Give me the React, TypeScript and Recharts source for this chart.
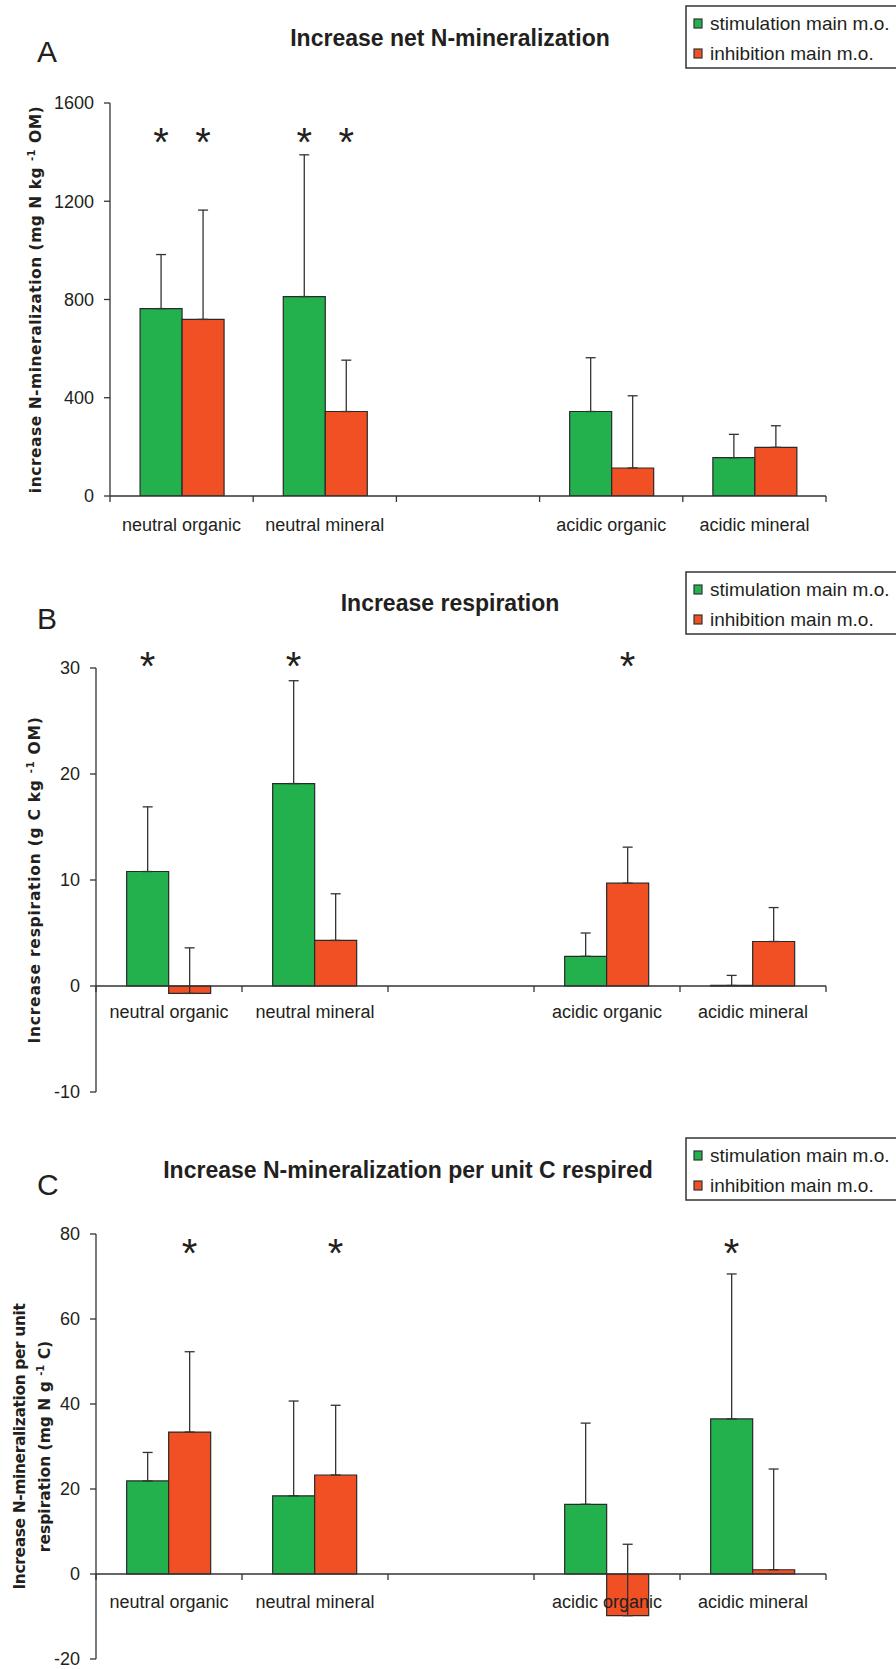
import React from "react";
import {
  Bar,
  BarChart,
  ErrorBar,
  LabelList,
  ReferenceLine,
  XAxis,
  YAxis,
} from "recharts";

const CATEGORIES = [
  "neutral organic",
  "neutral mineral",
  "",
  "acidic organic",
  "acidic mineral",
];
const SERIES = ["stimulation main m.o.", "inhibition main m.o."];
const GREEN = "#23b14d";
const RED = "#f05023";
const INK = "#231f20";
const LINE = "#333333";

// A: increase net N-mineralization (mg N kg-1 OM)
const nminStim = [763, 812, null, 344, 156];
const nminStimErr = [220, 577, null, 219, 95];
const nminInhib = [719, 344, null, 114, 198];
const nminInhibErr = [445, 209, null, 294, 88];
const nminStimStar = [true, true, false, false, false];
const nminInhibStar = [true, true, false, false, false];
const nminTicks = [0, 400, 800, 1200, 1600];
const nminStarLevel = 1478;

// B: increase respiration (g C kg-1 OM)
const respStim = [10.8, 19.1, null, 2.8, 0.05];
const respStimErr = [6.1, 9.7, null, 2.2, 0.95];
const respInhib = [-0.7, 4.3, null, 9.7, 4.2];
const respInhibErr = [4.3, 4.4, null, 3.4, 3.2];
const respStimStar = [true, true, false, false, false];
const respInhibStar = [false, false, false, true, false];
const respTicks = [-10, 0, 10, 20, 30];
const respStarLevel = 31.1;

// C: increase N-mineralization per unit C respired (mg N g-1 C)
const ratioStim = [21.9, 18.4, null, 16.4, 36.5];
const ratioStimErr = [6.7, 22.3, null, 19.1, 34.1];
const ratioInhib = [33.4, 23.3, null, -9.8, 1.0];
const ratioInhibErr = [18.9, 16.4, null, 16.8, 23.7];
const ratioStimStar = [false, false, false, false, true];
const ratioInhibStar = [true, true, false, false, false];
const ratioTicks = [-20, 0, 20, 40, 60, 80];
const ratioStarLevel = 77.7;

type Num = number | null;

const buildRows = (stim: Num[], stimErr: Num[], inhib: Num[], inhibErr: Num[]) =>
  CATEGORIES.map((category, i) => ({
    category,
    stim: stim[i],
    inhib: inhib[i],
    stimErr: stimErr[i] == null ? null : [0, stimErr[i]],
    inhibErr: inhibErr[i] == null ? null : [0, inhibErr[i]],
  }));

const STAR_FONT = 40;
const SANS = "Liberation Sans, Arial, sans-serif";

// asterisk above a bar, placed at a fixed value using the bar's own scale
const renderStars = (values: Num[], flags: boolean[], level: number) => (props: any) => {
  const value = props.value;
  let i = values.indexOf(value);
  if (i < 0 && typeof props.index === "number") i = props.index;
  if (i < 0 || !flags[i] || !value) return null;
  const vb = props.viewBox ?? props;
  const ppu = vb.height / value;
  const base = vb.y + vb.height;
  const cy = base - level * ppu;
  return (
    <text
      x={vb.x + vb.width / 2}
      y={cy + STAR_FONT * 0.58}
      textAnchor="middle"
      fontSize={STAR_FONT}
      fontFamily={SANS}
      fill={INK}
    >
      *
    </text>
  );
};

// category axis drawn on the zero line (Excel style: ticks between categories)
const renderCategoryAxis = (labelGap: number) => (props: any) => {
  const { x, y, width } = props.viewBox;
  const step = width / CATEGORIES.length;
  const bounds = CATEGORIES.map((_, i) => x + i * step).concat(x + width);
  return (
    <g>
      {bounds.map((bx, i) => (
        <line key={`tick-${i}`} x1={bx} x2={bx} y1={y} y2={y + 6} stroke={LINE} strokeWidth={1.3} />
      ))}
      {CATEGORIES.map((name, i) => (
        <text
          key={`cat-${i}`}
          x={x + (i + 0.5) * step}
          y={y + labelGap}
          textAnchor="middle"
          fontSize={18}
          fontFamily={SANS}
          fill={INK}
        >
          {name}
        </text>
      ))}
    </g>
  );
};

type TitleLine = { x: number; spacing: number; before: string; sup?: string; after?: string };

const renderYTitle = (lines: TitleLine[]) => (props: any) => {
  const vb = props.viewBox;
  const cy = vb.y + vb.height / 2;
  return (
    <g>
      {lines.map((ln, i) => (
        <text
          key={i}
          x={ln.x}
          y={cy}
          transform={`rotate(-90, ${ln.x}, ${cy})`}
          textAnchor="middle"
          style={{ letterSpacing: `${ln.spacing}px` }}
          fontFamily="DejaVu Sans, sans-serif"
          fontWeight="bold"
          fontSize={15.5}
          fill={INK}
        >
          {ln.before}
          {ln.sup ? (
            <tspan dy={-6} fontSize={10}>
              {ln.sup}
            </tspan>
          ) : null}
          {ln.after ? <tspan dy={ln.sup ? 6 : 0}>{ln.after}</tspan> : null}
        </text>
      ))}
    </g>
  );
};

interface PanelProps {
  top: number;
  height: number;
  marginTop: number;
  marginBottom: number;
  axisWidth: number;
  letter: string;
  letterY: number;
  title: string;
  titleX: number;
  titleY: number;
  legendTop: number;
  yTitle: TitleLine[];
  labelGap: number;
  domain: [number, number];
  ticks: number[];
  stim: Num[];
  stimErr: Num[];
  inhib: Num[];
  inhibErr: Num[];
  stimStars: boolean[];
  inhibStars: boolean[];
  starLevel: number;
}

function Panel(p: PanelProps) {
  const rows = buildRows(p.stim, p.stimErr, p.inhib, p.inhibErr);
  const colors = [GREEN, RED];

  return (
    <>
      <div style={{ position: "absolute", left: 0, top: p.top }}>
        <BarChart
          width={896}
          height={p.height}
          data={rows}
          margin={{ top: p.marginTop, right: 70, bottom: p.marginBottom, left: 0 }}
          barCategoryGap="21%"
          barGap={0}
        >
          <XAxis dataKey="category" hide />
          <YAxis
            domain={p.domain}
            ticks={p.ticks}
            interval={0}
            allowDataOverflow
            width={p.axisWidth}
            tickSize={6}
            tickMargin={10}
            axisLine={{ stroke: LINE, strokeWidth: 1.3 }}
            tickLine={{ stroke: LINE, strokeWidth: 1.3 }}
            tick={{ fontSize: 18, fill: INK, fontFamily: SANS }}
            label={renderYTitle(p.yTitle)}
          />
          <Bar
            dataKey="stim"
            name={SERIES[0]}
            fill={GREEN}
            stroke="#2a2a2a"
            strokeWidth={1.2}
            isAnimationActive={false}
          >
            <ErrorBar dataKey="stimErr" width={5} stroke={LINE} strokeWidth={1.3} />
            <LabelList content={renderStars(p.stim, p.stimStars, p.starLevel)} />
          </Bar>
          <Bar
            dataKey="inhib"
            name={SERIES[1]}
            fill={RED}
            stroke="#2a2a2a"
            strokeWidth={1.2}
            isAnimationActive={false}
          >
            <ErrorBar dataKey="inhibErr" width={5} stroke={LINE} strokeWidth={1.3} />
            <LabelList content={renderStars(p.inhib, p.inhibStars, p.starLevel)} />
          </Bar>
          <ReferenceLine
            y={0}
            stroke={LINE}
            strokeWidth={1.3}
            label={renderCategoryAxis(p.labelGap)}
          />
        </BarChart>
      </div>

      <svg
        width={896}
        height={p.height}
        style={{ position: "absolute", left: 0, top: p.top, pointerEvents: "none" }}
      >
        <text x={37} y={p.letterY} fontSize={30} fill={INK} fontFamily={SANS}>
          {p.letter}
        </text>
        <text
          x={p.titleX}
          y={p.titleY}
          textAnchor="middle"
          fontSize={23}
          fontWeight="bold"
          fill={INK}
          fontFamily={SANS}
        >
          {p.title}
        </text>
        <rect x={686} y={p.legendTop} width={260} height={62} fill="#fff" stroke={LINE} strokeWidth={1.5} />
        {SERIES.map((name, i) => (
          <g key={name}>
            <rect
              x={694}
              y={p.legendTop + 13 + i * 30}
              width={8}
              height={9}
              fill={colors[i]}
              stroke={LINE}
              strokeWidth={1.2}
            />
            <text x={710} y={p.legendTop + 24 + i * 30} fontSize={19} fill={INK} fontFamily={SANS}>
              {name}
            </text>
          </g>
        ))}
      </svg>
    </>
  );
}

export default function App() {
  return (
    <div
      style={{
        position: "absolute",
        left: 0,
        top: 0,
        width: 896,
        height: 1669,
        overflow: "hidden",
        background: "#fff",
      }}
    >
      <Panel
        top={0}
        height={540}
        marginTop={103}
        marginBottom={44}
        axisWidth={110}
        letter="A"
        letterY={62}
        title="Increase net N-mineralization"
        titleX={450}
        titleY={46}
        legendTop={6}
        yTitle={[
          { x: 41, spacing: 0.5, before: "increase N-mineralization (mg N kg ", sup: "-1", after: " OM)" },
        ]}
        labelGap={35}
        domain={[0, 1600]}
        ticks={nminTicks}
        stim={nminStim}
        stimErr={nminStimErr}
        inhib={nminInhib}
        inhibErr={nminInhibErr}
        stimStars={nminStimStar}
        inhibStars={nminInhibStar}
        starLevel={nminStarLevel}
      />
      <Panel
        top={540}
        height={575}
        marginTop={128}
        marginBottom={23}
        axisWidth={96}
        letter="B"
        letterY={89}
        title="Increase respiration"
        titleX={450}
        titleY={71}
        legendTop={32}
        yTitle={[
          { x: 40, spacing: 0.75, before: "Increase respiration (g C kg ", sup: "-1", after: " OM)" },
        ]}
        labelGap={32}
        domain={[-10, 30]}
        ticks={respTicks}
        stim={respStim}
        stimErr={respStimErr}
        inhib={respInhib}
        inhibErr={respInhibErr}
        stimStars={respStimStar}
        inhibStars={respInhibStar}
        starLevel={respStarLevel}
      />
      <Panel
        top={1100}
        height={580}
        marginTop={134}
        marginBottom={21}
        axisWidth={96}
        letter="C"
        letterY={95}
        title="Increase N-mineralization per unit C respired"
        titleX={408}
        titleY={78}
        legendTop={38}
        yTitle={[
          { x: 25, spacing: -0.4, before: "Increase N-mineralization per unit" },
          { x: 50, spacing: 0, before: "respiration (mg N g ", sup: "-1", after: " C)" },
        ]}
        labelGap={34}
        domain={[-20, 80]}
        ticks={ratioTicks}
        stim={ratioStim}
        stimErr={ratioStimErr}
        inhib={ratioInhib}
        inhibErr={ratioInhibErr}
        stimStars={ratioStimStar}
        inhibStars={ratioInhibStar}
        starLevel={ratioStarLevel}
      />
    </div>
  );
}
